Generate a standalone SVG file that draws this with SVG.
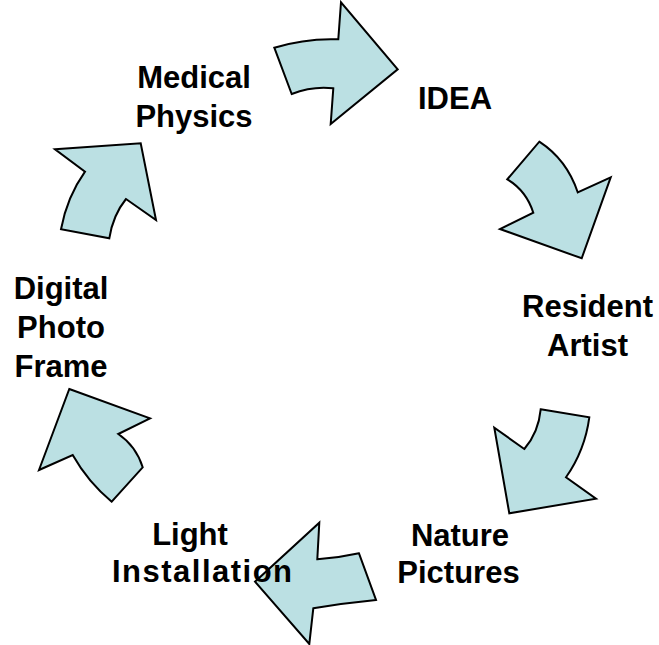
<svg xmlns="http://www.w3.org/2000/svg" width="659" height="645" viewBox="0 0 659 645">
<style>
.arr{fill:#BBE0E3;stroke:#000;stroke-width:2;stroke-linejoin:miter}
.lbl{font-family:"Liberation Sans",Arial,sans-serif;font-weight:bold;font-size:31px;fill:#000;text-anchor:middle}
</style>
<rect width="659" height="645" fill="#fff"/>
<g id="connectors">
<path id="arrow1" class="arr" d="M274.3,47.7 Q306,38 338.3,39.3 L341,2.3 L397.7,69.3 L330.7,124 L333.3,88.3 Q312.5,85.8 291.7,94 Z"/>
<path id="arrow2" class="arr" d="M539.3,141.7 Q566.8,159.7 577.7,192.3 L610.7,177.3 L581.7,258.3 L500,229 L533.3,212.7 Q526.3,190.7 507.3,179.3 Z"/>
<path id="arrow3" class="arr" d="M540.7,409.3 L589.3,417.3 Q585,450 566,477.3 L596,498.7 L509.3,513.3 L494.3,427.7 L524.3,449 Q538.5,432.5 540.7,409.3 Z"/>
<path id="arrow4" class="arr" d="M319.3,522.7 L317.3,559.3 Q338,558 359,553.3 L376,600 Q344.7,603 313.3,608.3 L309.3,644 L255,581.7 Z"/>
<path id="arrow5" class="arr" d="M69.3,389 L150,418.3 L118.3,434 Q136,446 142.7,467.3 L111.7,501.7 Q88,482 72.7,455 L39,470 Z"/>
<path id="arrow6" class="arr" d="M55,149.3 L140.7,143.3 L156,220 L126,199 Q113,215 109.3,238.3 L61,229.3 Q67,197 85,171.7 Z"/>
</g>
<g id="node-medical"><text class="lbl" x="194" y="88">Medical</text><text class="lbl" x="194" y="127">Physics</text></g>
<g id="node-idea"><text class="lbl" x="455" y="109">IDEA</text></g>
<g id="node-resident"><text class="lbl" x="587.5" y="317">Resident</text><text class="lbl" x="587.5" y="356">Artist</text></g>
<g id="node-nature"><text class="lbl" x="460" y="546">Nature</text><text class="lbl" x="458.5" y="583">Pictures</text></g>
<g id="node-light"><text class="lbl" x="190" y="545">Light</text><text class="lbl" x="202" y="582" textLength="180" lengthAdjust="spacing">Installation</text></g>
<g id="node-digital"><text class="lbl" x="61" y="299">Digital</text><text class="lbl" x="61" y="338">Photo</text><text class="lbl" x="61" y="377">Frame</text></g>
</svg>
